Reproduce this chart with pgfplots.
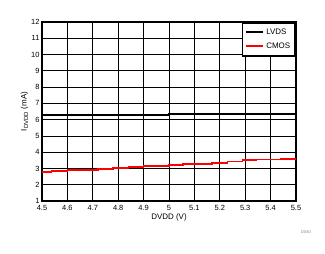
\documentclass[border=0pt]{standalone}
\usepackage{fontspec}
\setmainfont{Liberation Sans}
\usepackage{pgfplots}
\pgfplotsset{compat=1.18}
\begin{document}
\begin{tikzpicture}
\begin{axis}[
  name=ax,
  scale only axis,
  width=254bp, height=179bp,
  xmin=4.5, xmax=5.5, ymin=1, ymax=12,
  xtick={4.5,4.6,...,5.5},
  xticklabels={4.5,4.6,4.7,4.8,4.9,5,5.1,5.2,5.3,5.4,5.5},
  ytick={1,2,...,12},
  grid=major,
  major grid style={black, line width=0.8bp},
  axis line style={black, line width=1.6bp},
  tick style={draw=none},
  tick label style={font=\fontsize{7.5}{8}\selectfont},
  /pgf/number format/assume math mode=true,
  xticklabel style={yshift=-1bp},
  yticklabel style={xshift=1bp},
  xlabel={DVDD (V)},
  ylabel={I\textsubscript{DVDD} (mA)},
  label style={font=\fontsize{8}{9}\selectfont},
  xlabel style={yshift=4bp},
  ylabel style={yshift=-4bp},
  legend style={at={(1,1)}, anchor=north east, draw=black, line width=1.6bp,
    font=\fontsize{8}{9}\selectfont, inner xsep=3bp, inner ysep=4bp, row sep=3bp,
    legend cell align=left},
  legend image code/.code={\draw[#1, line width=2bp] (0bp,0bp) -- (17bp,0bp);},
  clip=false,
]
\addplot[black, line width=1.6bp, const plot] coordinates {
(4.5,6.28) (5.0,6.35) (5.5,6.35)};
\addlegendentry{LVDS}
\addplot[red, line width=1.6bp, const plot] coordinates {
(4.5,2.80) (4.538,2.86) (4.6,2.92) (4.72,2.98) (4.78,3.04) (4.84,3.10)
(4.9,3.16) (5.0,3.20) (5.056,3.29) (5.17,3.35) (5.23,3.43) (5.29,3.51)
(5.345,3.55) (5.44,3.59) (5.5,3.59)};
\addlegendentry{CMOS}
\end{axis}
\node[anchor=center, text=gray, font=\fontsize{4}{4}\selectfont] at ([xshift=10bp,yshift=-31bp]ax.south east) {D040};
\path ([xshift=-42bp,yshift=-53bp]ax.south west) rectangle ([xshift=29bp,yshift=22bp]ax.north east);
\end{tikzpicture}
\end{document}
